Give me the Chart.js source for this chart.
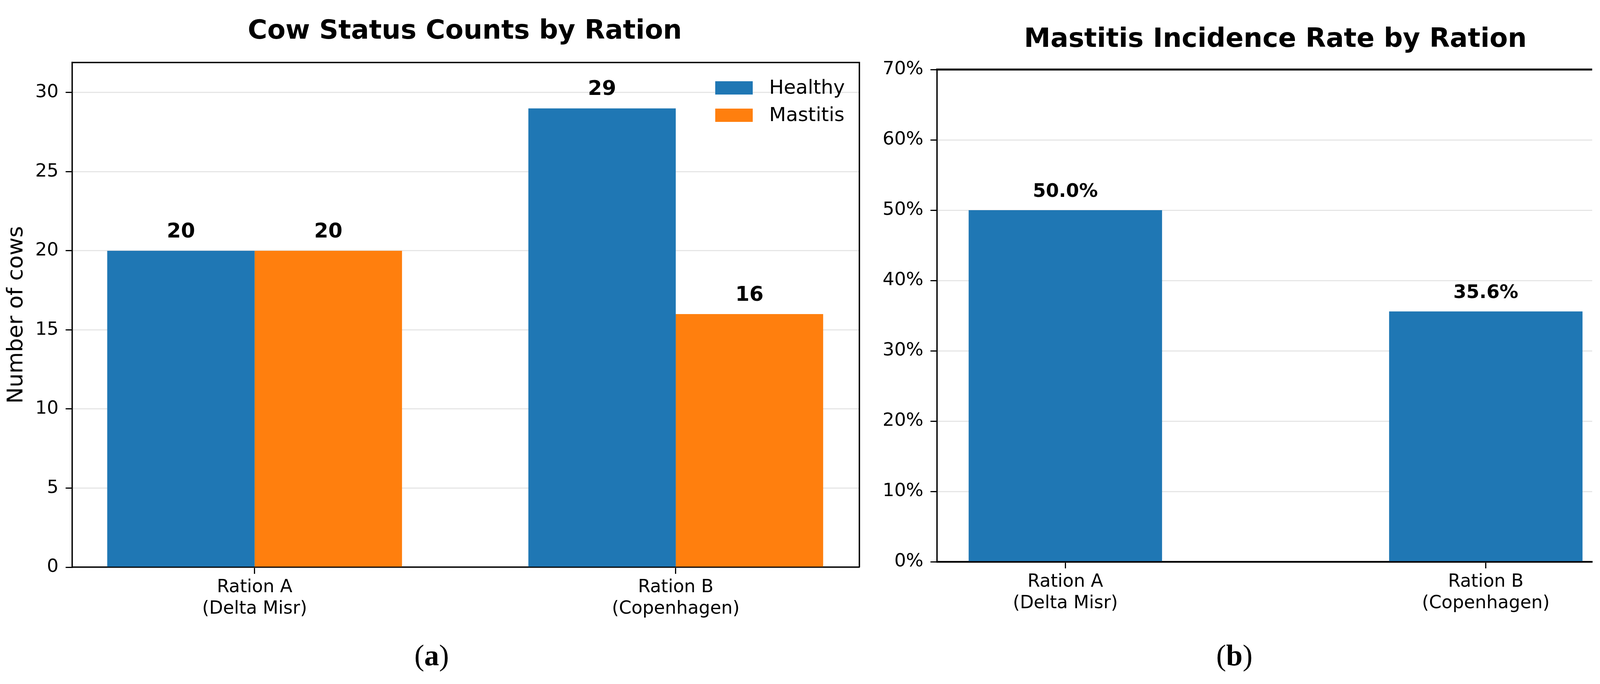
<!DOCTYPE html>
<html>
<head>
<meta charset="utf-8">
<script src="https://cdn.jsdelivr.net/npm/chart.js@4.4.1/dist/chart.umd.min.js"></script>
<style>
  body { margin: 0; background: #fff; width: 4130px; height: 1751px; position: relative; overflow: hidden; }
  canvas { position: absolute; top: 0; }
  #countChart { left: 0; }
  #rateChart { left: 2150px; }
  .cap { position: absolute; top: 1639px; font-family: "Liberation Serif"; font-size: 76px; line-height: 1; transform: translateX(-50%); color: #000; }
</style>
</head>
<body>
<canvas id="countChart" width="2260" height="1751"></canvas>
<canvas id="rateChart" width="1980" height="1751"></canvas>
<div class="cap" style="left:1105px">(<b>a</b>)</div>
<div class="cap" style="left:3160px">(<b>b</b>)</div>
<script>
const rations = [['Ration A', '(Delta Misr)'], ['Ration B', '(Copenhagen)']];
const healthyCounts = [20, 29];
const mastitisCounts = [20, 16];
const incidencePct = [50.0, 35.6];
const countTicks = [0, 5, 10, 15, 20, 25, 30];
const pctTicks = [0, 10, 20, 30, 40, 50, 60, 70];

Chart.defaults.font.family = '"DejaVu Sans"';
Chart.defaults.color = '#000';

const toPoints = vals => vals.map((v, i) => ({ x: i, y: v }));

// titles, value labels, extra spines and the inside legend
const extras = {
  id: 'extras',
  afterDatasetsDraw(chart, args, opts) {
    const ctx = chart.ctx, a = chart.chartArea;
    ctx.save();
    ctx.strokeStyle = '#000';
    ctx.lineWidth = opts.frameWidth;
    ctx.beginPath();
    ctx.moveTo(a.left - opts.frameWidth / 2, a.top);
    ctx.lineTo(a.right, a.top);
    if (opts.rightSpine) ctx.lineTo(a.right, a.bottom);
    ctx.stroke();

    ctx.fillStyle = '#000';
    ctx.textAlign = 'center';
    ctx.textBaseline = 'alphabetic';
    ctx.font = 'bold ' + opts.valueSize + 'px "DejaVu Sans"';
    chart.data.datasets.forEach((ds, i) => {
      chart.getDatasetMeta(i).data.forEach((bar, j) => {
        ctx.fillText(ds.data[j].y.toFixed(opts.decimals) + opts.suffix, bar.x, bar.y - 34);
      });
    });

    ctx.font = 'bold 68px "DejaVu Sans"';
    ctx.fillText(opts.title, opts.titleX, opts.titleY);

    if (opts.legend) {
      ctx.textAlign = 'left';
      ctx.textBaseline = 'middle';
      ctx.font = '50px "DejaVu Sans"';
      chart.data.datasets.forEach((ds, i) => {
        const y = opts.legendY + i * 70;
        ctx.fillStyle = ds.backgroundColor;
        ctx.fillRect(opts.legendX, y, 96, 34);
        ctx.fillStyle = '#000';
        ctx.fillText(ds.label, opts.legendX + 138, y + 19);
      });
    }
    ctx.restore();
  }
};

new Chart(document.getElementById('countChart'), {
  type: 'bar',
  data: {
    datasets: [
      { label: 'Healthy', data: toPoints(healthyCounts), backgroundColor: '#1f77b4' },
      { label: 'Mastitis', data: toPoints(mastitisCounts), backgroundColor: '#ff7f0e' }
    ]
  },
  options: {
    responsive: false,
    animation: false,
    devicePixelRatio: 1,
    categoryPercentage: 0.7,
    barPercentage: 1,
    layout: { padding: { top: 160, left: 0, right: 60, bottom: 0 } },
    plugins: {
      legend: { display: false },
      tooltip: { enabled: false },
      extras: {
        title: 'Cow Status Counts by Ration', titleX: 1190, titleY: 99,
        valueSize: 52, decimals: 0, suffix: '',
        frameWidth: 3.5, rightSpine: true,
        legend: true, legendX: 1831, legendY: 208
      }
    },
    scales: {
      x: {
        type: 'linear', offset: false, min: -0.433, max: 1.436,
        afterBuildTicks: s => { s.ticks = rations.map((r, i) => ({ value: i })); },
        afterFit: s => { s.height = 299; },
        ticks: { callback: v => rations[v], font: { size: 46 }, color: '#000', padding: 7, maxRotation: 0, autoSkip: false },
        grid: { offset: false, drawOnChartArea: false, tickLength: 17, tickColor: '#000', tickWidth: 3 },
        border: { color: '#000', width: 3.5 }
      },
      y: {
        min: 0, max: 31.9,
        afterBuildTicks: s => { s.ticks = countTicks.map(v => ({ value: v })); },
        afterFit: s => { s.width = 185; },
        ticks: { font: { size: 47 }, color: '#000', padding: 18 },
        grid: { color: '#e6e6e6', lineWidth: 3, tickLength: 17, tickColor: '#000', tickWidth: 3 },
        border: { color: '#000', width: 3.5 },
        title: { display: true, text: 'Number of cows', font: { size: 56 }, color: '#000', padding: { top: 9 } }
      }
    }
  },
  plugins: [extras]
});

new Chart(document.getElementById('rateChart'), {
  type: 'bar',
  data: {
    datasets: [
      { label: 'Mastitis incidence', data: toPoints(incidencePct), backgroundColor: '#1f77b4' }
    ]
  },
  options: {
    responsive: false,
    animation: false,
    devicePixelRatio: 1,
    categoryPercentage: 0.46,
    barPercentage: 1,
    layout: { padding: { top: 178, left: 0, right: 54, bottom: 0 } },
    plugins: {
      legend: { display: false },
      tooltip: { enabled: false },
      extras: {
        title: 'Mastitis Incidence Rate by Ration', titleX: 1115, titleY: 120,
        valueSize: 48, decimals: 1, suffix: '%',
        frameWidth: 5, rightSpine: false,
        legend: false
      }
    },
    scales: {
      x: {
        type: 'linear', offset: false, min: -0.305, max: 1.253,
        afterBuildTicks: s => { s.ticks = rations.map((r, i) => ({ value: i })); },
        afterFit: s => { s.height = 313; },
        ticks: { callback: v => rations[v], font: { size: 46 }, color: '#000', padding: 7, maxRotation: 0, autoSkip: false },
        grid: { offset: false, drawOnChartArea: false, tickLength: 17, tickColor: '#000', tickWidth: 3 },
        border: { color: '#000', width: 4.5 }
      },
      y: {
        min: 0, max: 70,
        afterBuildTicks: s => { s.ticks = pctTicks.map(v => ({ value: v })); },
        afterFit: s => { s.width = 249; },
        ticks: { callback: v => v + '%', font: { size: 47 }, color: '#000', padding: 18 },
        grid: { color: '#e6e6e6', lineWidth: 3, tickLength: 17, tickColor: '#000', tickWidth: 3 },
        border: { color: '#000', width: 3.5 }
      }
    }
  },
  plugins: [extras]
});
</script>
</body>
</html>
